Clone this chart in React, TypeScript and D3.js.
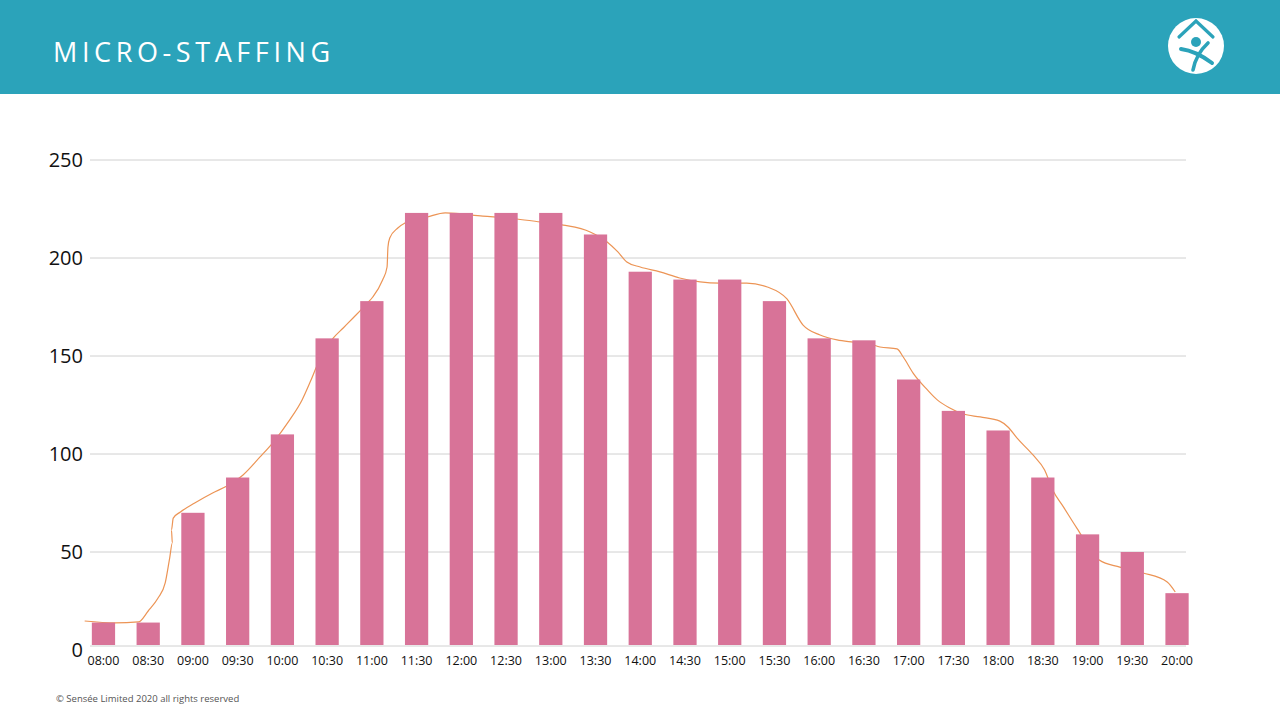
import { useEffect, useRef } from "react";
import * as d3 from "d3";

// half-hour slots on the x axis
const slots = [
  "08:00", "08:30", "09:00", "09:30", "10:00", "10:30", "11:00", "11:30",
  "12:00", "12:30", "13:00", "13:30", "14:00", "14:30", "15:00", "15:30",
  "16:00", "16:30", "17:00", "17:30", "18:00", "18:30", "19:00", "19:30",
  "20:00",
];

// staff scheduled per slot (bars)
const staffed = [
  14, 14, 70, 88, 110, 159, 178, 223, 223, 223, 223, 212, 193, 189, 189, 178,
  159, 158, 138, 122, 112, 88, 59, 50, 29,
];

// demand curve: hour of day and value
const demandHours = [
  7.79, 8.13, 8.39, 8.5, 8.61, 8.69, 8.74, 8.77, 8.76, 8.78, 8.86, 9.02, 9.22,
  9.38, 9.56, 9.75, 9.89, 10.08, 10.22, 10.31, 10.4, 10.57, 10.68, 10.79,
  10.95, 11.01, 11.12, 11.17, 11.18, 11.2, 11.29, 11.37, 11.62, 11.82, 12.24,
  12.62, 12.88, 13.14, 13.44, 13.63, 13.75, 13.85, 14.0, 14.22, 14.44, 14.67,
  14.89, 15.19, 15.42, 15.64, 15.82, 16.01, 16.2, 16.38, 16.57, 16.68, 16.87,
  16.94, 17.05, 17.21, 17.32, 17.46, 17.61, 17.8, 18.02, 18.11, 18.21, 18.39,
  18.52, 18.61, 18.73, 18.88, 19.13, 19.36, 19.62, 19.89, 19.98,
];
const demandValues = [
  14.8, 13.8, 14.3, 19.9, 26.5, 34.2, 46.9, 54.6, 61.2, 67.3, 70.4, 75.0, 80.1,
  83.7, 89.3, 98.5, 105.6, 117.3, 127.6, 136.7, 146.4, 159.2, 164.3, 169.4,
  177.0, 180.1, 188.8, 195.4, 205.6, 210.2, 215.3, 217.9, 220.9, 223.0, 221.4,
  219.9, 218.4, 216.8, 213.3, 208.2, 203.1, 198.0, 195.4, 192.9, 189.8, 187.8,
  187.2, 187.2, 185.2, 179.1, 165.8, 160.7, 158.2, 157.1, 156.1, 154.6, 153.6,
  149.5, 141.3, 132.7, 127.6, 123.5, 120.4, 118.9, 116.8, 113.8, 108.2, 99.5,
  91.8, 81.6, 73.0, 62.2, 45.9, 42.3, 39.3, 34.7, 29.6,
];

const yTicks = [0, 50, 100, 150, 200, 250];

const W = 1280;
const H = 720;
const TEAL = "#2BA3BA";
const BAR = "#D87398";
const LINE = "#EC9455";
const FONT = "'Open Sans', 'Noto Sans', sans-serif";

const App = () => {
  const svgRef = useRef<SVGSVGElement | null>(null);

  useEffect(() => {
    const svg = d3.select(svgRef.current);
    svg.selectAll("*").remove();

    // header band
    svg.append("rect").attr("width", W).attr("height", 94).attr("fill", TEAL);
    svg
      .append("text")
      .attr("x", 53)
      .attr("y", 62)
      .attr("fill", "#fff")
      .attr("font-family", FONT)
      .attr("font-size", 27)
      .attr("letter-spacing", 4.6)
      .text("MICRO-STAFFING");

    // logo
    const logo = svg.append("g").attr("transform", "translate(1196,46)");
    logo.append("circle").attr("r", 28).attr("fill", "#fff");
    logo
      .append("path")
      .attr("d", "M-17,-9 L0,-25 L17,-9")
      .attr("fill", "none")
      .attr("stroke", TEAL)
      .attr("stroke-width", 3.2)
      .attr("stroke-linecap", "round");
    logo.append("circle").attr("cx", 0).attr("cy", -4).attr("r", 5).attr("fill", TEAL);
    logo
      .append("path")
      .attr("d", "M-15,3 Q0,5 16,17")
      .attr("fill", "none")
      .attr("stroke", TEAL)
      .attr("stroke-width", 4)
      .attr("stroke-linecap", "round");
    logo
      .append("path")
      .attr("d", "M12,-3 Q0,8 -3,24")
      .attr("fill", "none")
      .attr("stroke", TEAL)
      .attr("stroke-width", 3.6)
      .attr("stroke-linecap", "round");

    // scales
    const x = d3
      .scaleBand<string>()
      .domain(slots)
      .range([81.1, 1199.4])
      .paddingInner(0.48)
      .paddingOuter(0.24);

    const y = d3.scaleLinear().domain([0, 250]).range([650, 160]);

    const centre = (s: string) => (x(s) as number) + x.bandwidth() / 2;
    const xh = d3
      .scaleLinear()
      .domain([8, 20])
      .range([centre(slots[0]), centre(slots[slots.length - 1])]);

    const gridX0 = 90;
    const gridX1 = 1186;
    const baseY = y(0) - 4; // category axis sits a touch above the zero mark

    // gridlines and labels
    const g = svg.append("g");
    yTicks.forEach((t) => {
      const ly = t === 0 ? baseY : y(t);
      g.append("line")
        .attr("x1", gridX0)
        .attr("x2", gridX1)
        .attr("y1", ly)
        .attr("y2", ly)
        .attr("stroke", "#D0D0D0")
        .attr("stroke-width", 1);
      g.append("text")
        .attr("x", 83)
        .attr("y", y(t) + 7)
        .attr("text-anchor", "end")
        .attr("font-family", FONT)
        .attr("font-size", 20)
        .attr("fill", "#111")
        .text(t);
    });

    // demand line (sits behind the bars)
    const line = d3
      .line<number>()
      .x((_, i) => xh(demandHours[i]))
      .y((d) => y(d))
      .curve(d3.curveMonotoneX);
    svg
      .append("path")
      .attr("d", line(demandValues) || "")
      .attr("fill", "none")
      .attr("stroke", LINE)
      .attr("stroke-width", 1.2);

    // bars
    svg
      .append("g")
      .selectAll("rect")
      .data(staffed)
      .join("rect")
      .attr("x", (_, i) => x(slots[i]) as number)
      .attr("y", (d) => y(d))
      .attr("width", x.bandwidth())
      .attr("height", (d) => baseY - 1 - y(d))
      .attr("fill", BAR);

    // x labels
    svg
      .append("g")
      .selectAll("text")
      .data(slots)
      .join("text")
      .attr("x", (d) => centre(d))
      .attr("y", 665)
      .attr("text-anchor", "middle")
      .attr("font-family", FONT)
      .attr("font-size", 12.5)
      .attr("fill", "#111")
      .text((d) => d);

    // footer
    svg
      .append("text")
      .attr("x", 56)
      .attr("y", 702)
      .attr("font-family", FONT)
      .attr("font-size", 9.5)
      .attr("fill", "#555")
      .text("© Sensée Limited 2020 all rights reserved");
  }, []);

  return (
    <div style={{ position: "fixed", left: 0, top: 0, width: W, height: H, background: "#fff" }}>
      <svg ref={svgRef} width={W} height={H} style={{ display: "block" }} />
    </div>
  );
};

export default App;
